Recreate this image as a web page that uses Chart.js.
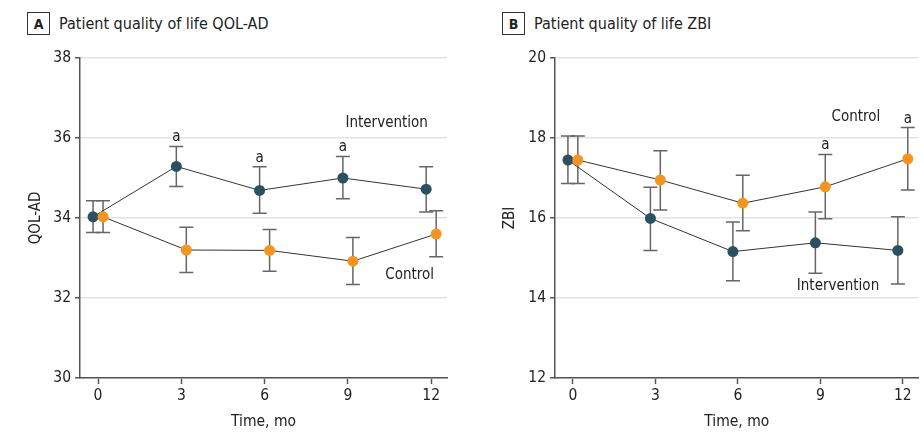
<!DOCTYPE html>
<html>
<head>
<meta charset="utf-8">
<script src="https://cdn.jsdelivr.net/npm/chart.js@4.4.1/dist/chart.umd.min.js"></script>
<style>
  body { margin: 0; background: #fff; width: 924px; height: 444px; overflow: hidden; position: relative; font-family: "DejaVu Sans Condensed", "DejaVu Sans", sans-serif; color: #222; }
  .panel { position: absolute; top: 0; width: 462px; height: 444px; }
  .panel canvas { position: absolute; left: 0; top: 0; }
  .head { position: absolute; top: 12px; display: flex; align-items: center; font-size: 16px; }
  .tag { width: 21px; height: 21px; border: 1.5px solid #333; display: flex; align-items: center; justify-content: center; font-weight: bold; font-size: 14px; margin-right: 9px; }
</style>
</head>
<body>
<div class="panel" style="left:0"><div class="head" style="left:27px"><div class="tag">A</div>Patient quality of life QOL-AD</div><canvas id="chartA" width="462" height="444"></canvas></div>
<div class="panel" style="left:462px"><div class="head" style="left:40px"><div class="tag">B</div>Patient quality of life ZBI</div><canvas id="chartB" width="462" height="444"></canvas></div>
<script>
// months of follow-up
const months = [0, 3, 6, 9, 12];

// QOL-AD means and 95% CI
const qolIntervention = [34.03, 35.29, 34.69, 35.0, 34.72];
const qolInterventionLow = [33.64, 34.79, 34.12, 34.48, 34.15];
const qolInterventionHigh = [34.43, 35.79, 35.28, 35.54, 35.28];
const qolControl = [34.03, 33.2, 33.19, 32.92, 33.6];
const qolControlLow = [33.64, 32.64, 32.67, 32.34, 33.03];
const qolControlHigh = [34.43, 33.77, 33.71, 33.51, 34.18];
const qolSignificant = [false, true, true, true, false]; // marked on intervention

// ZBI means and 95% CI
const zbiIntervention = [17.45, 15.99, 15.16, 15.38, 15.19];
const zbiInterventionLow = [16.86, 15.19, 14.43, 14.62, 14.35];
const zbiInterventionHigh = [18.05, 16.77, 15.9, 16.15, 16.03];
const zbiControl = [17.45, 16.95, 16.37, 16.78, 17.48];
const zbiControlLow = [16.86, 16.2, 15.68, 15.98, 16.7];
const zbiControlHigh = [18.05, 17.68, 17.07, 17.59, 18.26];
const zbiSignificant = [false, false, false, true, true]; // marked on control

const xTicks = [0, 3, 6, 9, 12];
const qolTicks = [30, 32, 34, 36, 38];
const zbiTicks = [12, 14, 16, 18, 20];

const INTERVENTION_COLOR = '#2b5161';
const CONTROL_COLOR = '#f7941d';
const TEXT_COLOR = '#222';
const DODGE = 0.18;
const FONT = '"DejaVu Sans Condensed", "DejaVu Sans", sans-serif';

const pts = (xs, ys, shift) => xs.map((m, i) => ({ x: m + shift, y: ys[i] }));

// error bars, significance marks and series labels
const extrasPlugin = {
    id: 'extras',
    beforeDatasetsDraw(chart) {
        const { ctx, scales: { x, y } } = chart;
        const ex = chart.options.plugins.extras;
        ctx.save();
        ctx.strokeStyle = '#666';
        ctx.lineWidth = 1.5;
        ex.bars.forEach(b => {
            b.low.forEach((lo, i) => {
                const px = x.getPixelForValue(months[i] + b.shift);
                const y1 = y.getPixelForValue(lo);
                const y2 = y.getPixelForValue(b.high[i]);
                ctx.beginPath();
                ctx.moveTo(px, y1); ctx.lineTo(px, y2);
                ctx.moveTo(px - 7, y1); ctx.lineTo(px + 7, y1);
                ctx.moveTo(px - 7, y2); ctx.lineTo(px + 7, y2);
                ctx.stroke();
            });
        });
        ctx.restore();
    },
    afterDatasetsDraw(chart) {
        const { ctx, scales: { x, y } } = chart;
        const ex = chart.options.plugins.extras;
        ctx.save();
        ctx.fillStyle = TEXT_COLOR;
        ctx.font = '15px ' + FONT;
        ctx.textAlign = 'center';
        ctx.textBaseline = 'alphabetic';
        ex.sig.flags.forEach((f, i) => {
            if (!f) return;
            const px = x.getPixelForValue(months[i] + ex.sig.shift);
            const py = y.getPixelForValue(ex.sig.high[i]);
            ctx.fillText('a', px, py - 5);
        });
        ctx.textAlign = 'right';
        ctx.textBaseline = 'middle';
        ex.labels.forEach(l => {
            ctx.fillText(l.text, x.getPixelForValue(l.x), y.getPixelForValue(l.y));
        });
        ctx.restore();
    }
};

function makeChart(id, cfg) {
    return new Chart(document.getElementById(id), {
        type: 'scatter',
        data: {
            datasets: [
                {
                    data: pts(months, cfg.control, DODGE),
                    showLine: true,
                    borderColor: '#333',
                    borderWidth: 1,
                    backgroundColor: CONTROL_COLOR,
                    pointBackgroundColor: CONTROL_COLOR,
                    pointBorderColor: CONTROL_COLOR,
                    pointBorderWidth: 0,
                    pointRadius: 5.5
                },
                {
                    data: pts(months, cfg.intervention, -DODGE),
                    showLine: true,
                    borderColor: '#333',
                    borderWidth: 1,
                    backgroundColor: INTERVENTION_COLOR,
                    pointBackgroundColor: INTERVENTION_COLOR,
                    pointBorderColor: INTERVENTION_COLOR,
                    pointBorderWidth: 0,
                    pointRadius: 5.5
                }
            ]
        },
        options: {
            responsive: false,
            animation: false,
            layout: { padding: { top: 58, right: cfg.padRight, bottom: 0, left: cfg.padLeft } },
            plugins: {
                legend: { display: false },
                tooltip: { enabled: false },
                extras: cfg.extras
            },
            scales: {
                x: {
                    type: 'linear',
                    min: -0.65,
                    max: 12.57,
                    afterBuildTicks: s => { s.ticks = xTicks.map(v => ({ value: v })); },
                    afterFit: s => { s.height = 66; },
                    grid: { drawOnChartArea: false, drawTicks: true, tickLength: 6, tickColor: '#555', tickWidth: 1.5 },
                    border: { color: '#555', width: 1.5 },
                    ticks: { color: TEXT_COLOR, font: { family: FONT, size: 15.5 }, padding: 3, maxRotation: 0 },
                    title: { display: true, text: 'Time, mo', color: TEXT_COLOR, font: { family: FONT, size: 15.5 }, padding: { top: 0, bottom: 13 } }
                },
                y: {
                    min: cfg.yTicks[0],
                    max: cfg.yTicks[cfg.yTicks.length - 1],
                    afterBuildTicks: s => { s.ticks = cfg.yTicks.map(v => ({ value: v })); },
                    afterFit: s => { s.width = cfg.yWidth; },
                    grid: { color: '#e3e3e3', lineWidth: 1.5, drawTicks: true, tickLength: 5, tickColor: '#555', tickWidth: 1.5 },
                    border: { color: '#555', width: 1.5 },
                    ticks: { color: TEXT_COLOR, font: { family: FONT, size: 15.5 }, padding: 4 },
                    title: { display: true, text: cfg.yTitle, color: TEXT_COLOR, font: { family: FONT, size: 15 }, padding: { top: 0, bottom: 0 } }
                }
            }
        },
        plugins: [extrasPlugin]
    });
}

makeChart('chartA', {
    control: qolControl,
    intervention: qolIntervention,
    yTicks: qolTicks,
    yTitle: 'QOL-AD',
    padLeft: 27,
    yWidth: 53,
    padRight: 15,
    extras: {
        bars: [
            { low: qolInterventionLow, high: qolInterventionHigh, shift: -DODGE },
            { low: qolControlLow, high: qolControlHigh, shift: DODGE }
        ],
        sig: { flags: qolSignificant, high: qolInterventionHigh, shift: -DODGE },
        labels: [
            { text: 'Intervention', x: 11.88, y: 36.37 },
            { text: 'Control', x: 12.1, y: 32.58 }
        ]
    }
});

makeChart('chartB', {
    control: zbiControl,
    intervention: zbiIntervention,
    yTicks: zbiTicks,
    yTitle: 'ZBI',
    padLeft: 39,
    yWidth: 54,
    padRight: 2,
    extras: {
        bars: [
            { low: zbiInterventionLow, high: zbiInterventionHigh, shift: -DODGE },
            { low: zbiControlLow, high: zbiControlHigh, shift: DODGE }
        ],
        sig: { flags: zbiSignificant, high: zbiControlHigh, shift: DODGE },
        labels: [
            { text: 'Control', x: 11.18, y: 18.52 },
            { text: 'Intervention', x: 11.14, y: 14.3 }
        ]
    }
});
</script>
</body>
</html>
